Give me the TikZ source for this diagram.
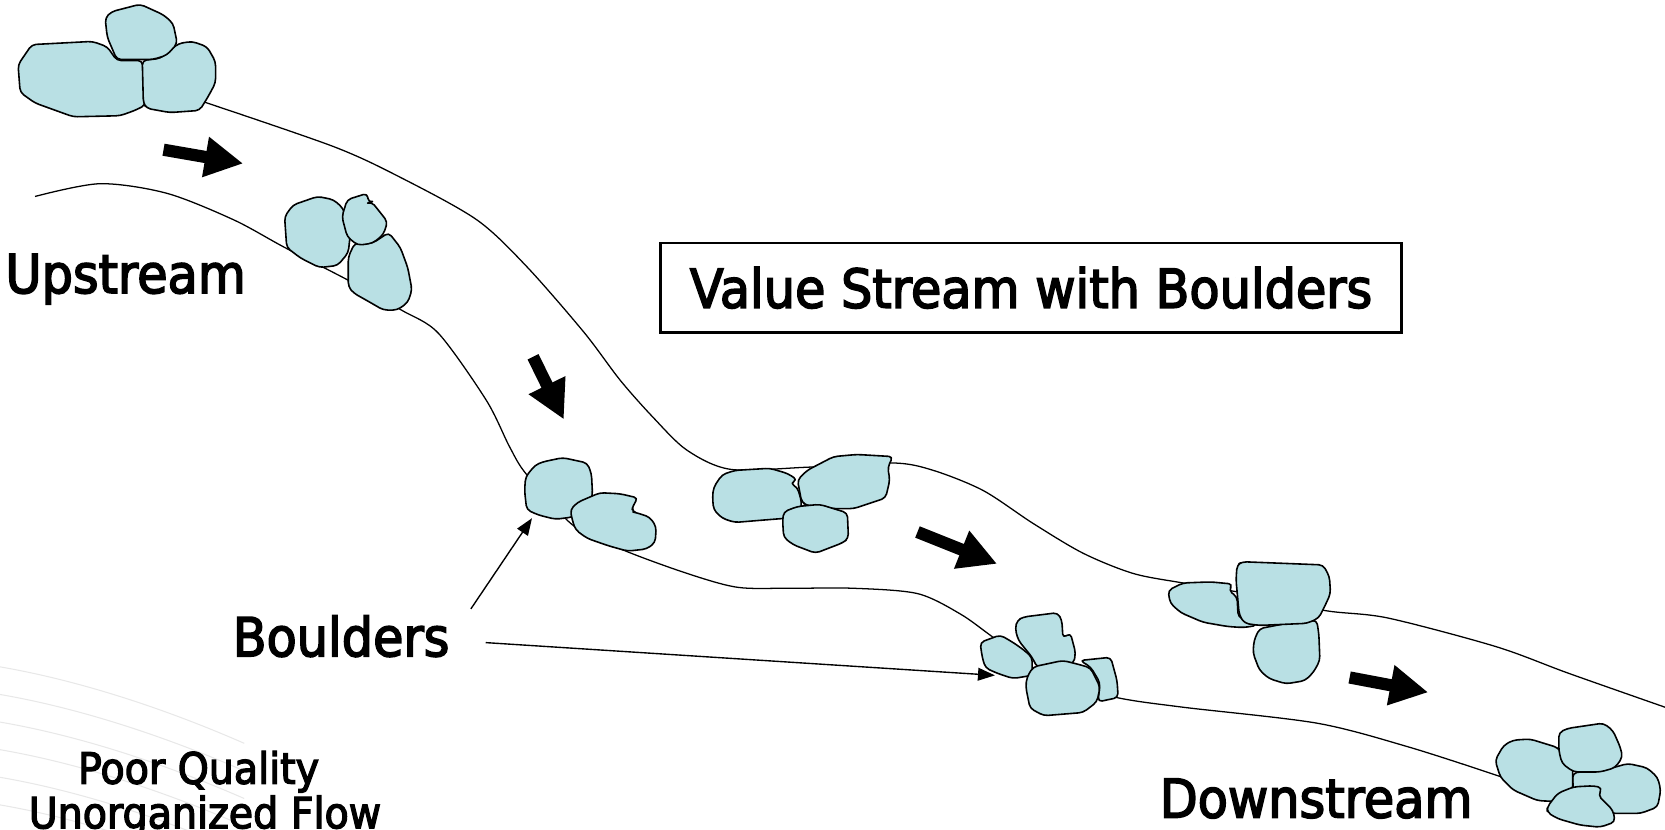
\documentclass[tikz,border=0pt]{standalone}
\usepackage{fontspec}
\setmainfont{DejaVu Sans}[FakeStretch=0.92, FakeBold=3]
\usetikzlibrary{arrows.meta,calc}
\definecolor{boulderblue}{RGB}{185,224,228}

\begin{document}
\begin{tikzpicture}[x=1pt,y=-1pt,
  boulder/.style={draw=black, fill=boulderblue, line width=1.5pt, rounded corners=4pt, line join=round},
  bank/.style={draw=black, line width=1.2pt},
  flow/.style={line width=11.5pt, -{Triangle[length=36pt,width=36pt]}},
  pointer/.style={line width=1.3pt, -{Triangle[length=16pt,width=12pt]}},
  big_text/.style={inner sep=0pt, font=\fontsize{50.5}{54}\selectfont},
  small_text/.style={inner sep=0pt, font=\fontsize{40.5}{46}\selectfont}]

\useasboundingbox (0,0) rectangle (1568,781);

% faint background swoosh
\foreach \d in {0,26,52,78,104,130}
  \draw[black!9, line width=1pt] (0,628+\d) .. controls (70,640+\d) and (150,665+\d) .. (230,700+\d);

% banks of the stream
\draw[bank] plot[smooth, tension=0.5] coordinates {(192,96) (314,138) (377,167) (449,207) (496,251) (550,313) (584,358) (615,393) (647,424) (688,442) (760,440) (841,436) (879,443) (926,462) (973,493) (1020,521) (1067,540) (1114,549) (1180,560) (1248,575) (1307,582) (1409,609) (1477,634) (1568,666)};
\draw[bank] plot[smooth, tension=0.5] coordinates {(33,185) (94,173) (157,182) (220,207) (268,233) (330,265) (378,292) (413,314) (458,377) (480,421) (496,447) (540,495) (587,518) (647,540) (694,553) (741,554) (804,554) (864,559) (904,578) (935,600) (990,640) (1052,657) (1114,666) (1240,681) (1325,703) (1409,730) (1420,735)};

% boulders, top left
\draw[boulder] (17,61) -- (30,42) -- (87,39) -- (101,44) -- (110,57) -- (134,57) -- (137,99) -- (127,104) -- (113,109) -- (69,110) -- (33,97) -- (19,87) -- cycle;
\draw[boulder] (134,57) -- (151,55) -- (168,41) -- (181,39) -- (195,44) -- (203,58) -- (203,78) -- (196,91) -- (188,104) -- (160,106) -- (138,102) -- (135,97) -- cycle;
\draw[boulder] (99,17) -- (105,11) -- (132,4) -- (154,14) -- (163,22) -- (167,41) -- (157,52) -- (144,56) -- (110,56) -- (101,35) -- cycle;

% boulders, upstream bend
\draw[boulder] (268,204) -- (276,193) -- (299,185) -- (314,188) -- (323,196) -- (330,219) -- (328,238) -- (318,250) -- (301,252) -- (283,243) -- (270,233) -- cycle;
\draw[boulder] (334,229) -- (351,229) -- (366,219) -- (377,233) -- (384,252) -- (388,273) -- (384,285) -- (374,292) -- (361,292) -- (349,285) -- (333,276) -- (328,270) -- (328,242) -- cycle;
\draw[boulder] (322,204) -- (327,188) -- (346,182) -- (347,191) -- (350,190) -- (358,200) -- (365,209) -- (361,221) -- (351,229) -- (337,231) -- (327,223) -- cycle;

% boulders, middle
\draw[boulder] (495,449) -- (504,438) -- (511,435) -- (530,431) -- (553,436) -- (557,446) -- (558,466) -- (554,479) -- (539,487) -- (523,489) -- (507,485) -- (496,480) -- (494,462) -- cycle;
\draw[boulder] (537,480) -- (544,473) -- (565,464) -- (584,465) -- (601,469) -- (596,476) -- (595,482) -- (600,483) -- (612,487) -- (618,496) -- (617,511) -- (609,517) -- (591,519) -- (573,514) -- (553,507) -- (542,499) -- (539,490) -- cycle;
\draw[boulder] (672,459) -- (680,447) -- (692,443) -- (725,441) -- (742,446) -- (751,452) -- (744,455) -- (751,459) -- (755,473) -- (754,480) -- (741,488) -- (716,490) -- (692,492) -- (680,488) -- (672,480) -- (671,468) -- cycle;
\draw[boulder] (751,452) -- (760,443) -- (785,430) -- (807,428) -- (841,430) -- (836,440) -- (838,452) -- (834,469) -- (804,479) -- (785,479) -- (760,476) -- (755,473) -- cycle;
\draw[boulder] (738,482) -- (751,477) -- (772,475) -- (798,483) -- (799,507) -- (794,511) -- (768,521) -- (747,513) -- (738,506) -- (737,490) -- cycle;

% boulders, lower bank
\draw[boulder] (958,584) -- (964,581) -- (996,577) -- (1000,584) -- (1001,601) -- (1008,596) -- (1013,615) -- (1011,625) -- (977,629) -- (972,619) -- (959,603) -- (956,592) -- cycle;
\draw[boulder] (923,605) -- (942,598) -- (954,605) -- (964,612) -- (972,619) -- (972,636) -- (954,639) -- (939,634) -- (928,629) -- (925,619) -- cycle;
\draw[boulder] (1017,622) -- (1046,619) -- (1052,641) -- (1053,657) -- (1043,659) -- (1034,661) -- (1036,643) -- (1027,628) -- cycle;
\draw[boulder] (973,628) -- (1001,622) -- (1017,626) -- (1027,629) -- (1036,647) -- (1033,661) -- (1020,671) -- (983,674) -- (970,667) -- (966,647) -- (967,638) -- cycle;

% boulders, upper bank right
\draw[boulder] (1100,556) -- (1114,549) -- (1140,548) -- (1161,550) -- (1157,556) -- (1165,562) -- (1166,581) -- (1184,589) -- (1171,591) -- (1156,590) -- (1133,586) -- (1112,577) -- (1102,568) -- cycle;
\draw[boulder] (1186,592) -- (1212,587) -- (1240,584) -- (1242,597) -- (1243,622) -- (1237,633) -- (1229,641) -- (1211,644) -- (1195,639) -- (1186,631) -- (1180,615) -- (1181,603) -- cycle;
\draw[boulder] (1165,532) -- (1170,529) -- (1246,532) -- (1252,543) -- (1253,559) -- (1248,570) -- (1242,582) -- (1231,587) -- (1186,589) -- (1172,587) -- (1167,579) -- (1164,546) -- cycle;

% boulders, downstream
\draw[boulder] (1481,728) -- (1519,723) -- (1533,719) -- (1551,723) -- (1561,732) -- (1564,744) -- (1561,760) -- (1545,766) -- (1519,766) -- (1482,760) -- cycle;
\draw[boulder] (1408,716) -- (1416,702) -- (1425,697) -- (1441,696) -- (1467,704) -- (1481,722) -- (1481,744) -- (1470,755) -- (1448,754) -- (1425,744) -- (1413,732) -- cycle;
\draw[boulder] (1468,690) -- (1476,686) -- (1510,681) -- (1519,688) -- (1526,704) -- (1528,713) -- (1521,723) -- (1507,727) -- (1482,727) -- (1471,719) -- (1468,707) -- cycle;
\draw[boulder] (1457,760) -- (1467,747) -- (1482,741) -- (1501,740) -- (1509,742) -- (1505,749) -- (1510,754) -- (1519,763) -- (1521,774) -- (1507,779) -- (1488,777) -- (1467,771) -- (1457,765) -- cycle;

% flow direction
\draw[flow] (154,141) -- (229,154);
\draw[flow] (502,336) -- (531,395);
\draw[flow] (864,501) -- (939,531);
\draw[flow] (1271,638) -- (1345,652);

% labels
\node[big_text, draw, line width=2.5pt, minimum width=698pt, minimum height=84pt] (title) at (971,271) {Value Stream with Boulders};
\node[big_text, anchor=base west] (upstream) at (5,276) {Upstream};
\node[big_text, anchor=base west] (boulders) at (219,618) {Boulders};
\node[big_text, anchor=base west] (downstream) at (1092,770) {Downstream};
\node[small_text, anchor=base] (poor) at (187,738) {Poor Quality};
\node[small_text, anchor=base] (unorg) at (193,780) {Unorganized Flow};

\coordinate (tipA) at (501,488);
\coordinate (tipB) at (937,636);
\draw[pointer] ($(boulders.north east)+(20,-6)$) -- (tipA);
\draw[pointer] ($(boulders.east)+(34,6)$) -- (tipB);

\end{tikzpicture}
\end{document}
